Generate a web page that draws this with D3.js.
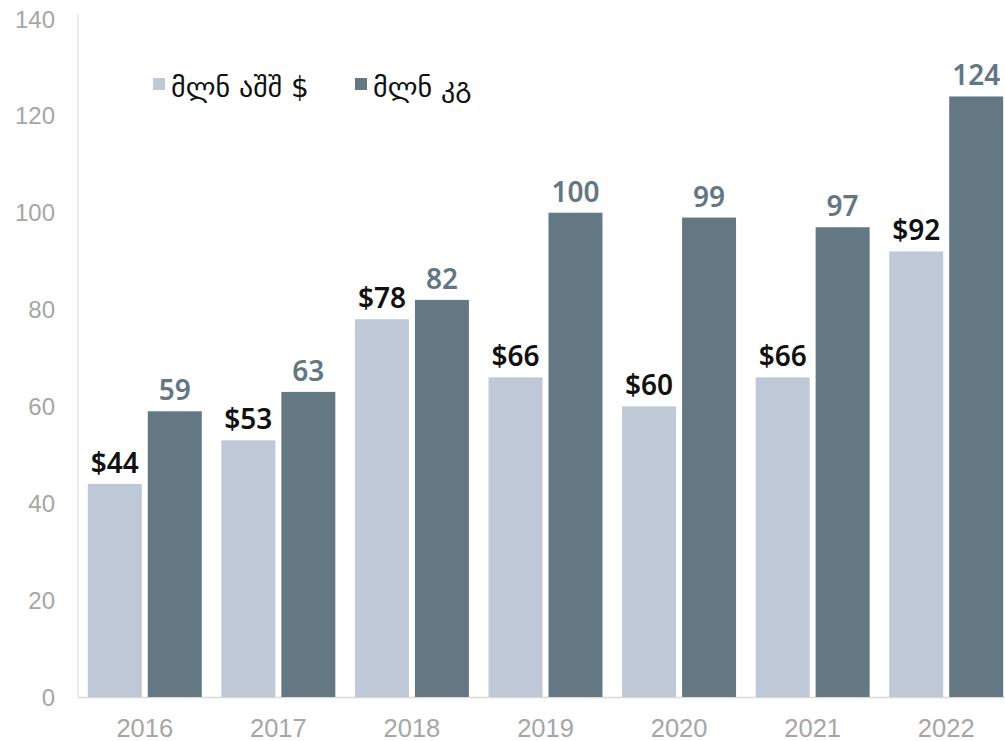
<!DOCTYPE html>
<html>
<head>
<meta charset="utf-8">
<script src="https://cdn.jsdelivr.net/npm/d3@7"></script>
<style>
  body { margin: 0; background: #fff; }
  svg text { font-family: "Liberation Sans", Arial, sans-serif; }
  .tick-label { fill: #a6a6a6; font-size: 24px; }
  .usd-label { fill: #111; font-family: "Noto Sans", sans-serif; font-weight: 600; font-size: 28px; }
  .kg-label { fill: #627783; font-family: "Noto Sans", sans-serif; font-weight: 600; font-size: 28px; }
  .legend-text { fill: #111; font-family: "DejaVu Sans", sans-serif; font-size: 28px; }
</style>
</head>
<body>
<svg id="chart"></svg>
<script>
const years = ["2016", "2017", "2018", "2019", "2020", "2021", "2022"];
const usd = [44, 53, 78, 66, 60, 66, 92];
const kg = [59, 63, 82, 100, 99, 97, 124];
const yTicks = [0, 20, 40, 60, 80, 100, 120, 140];
const seriesNames = ["მლნ აშშ $", "მლნ კგ"];

const width = 1005;
const height = 741;
const colors = ["#bec8d6", "#637883"];

const svg = d3.select("#chart").attr("width", width).attr("height", height);

const x = d3.scaleBand().domain(years).range([78, 1013]).paddingInner(0.147).paddingOuter(0.0735);
const xSub = d3.scaleBand().domain([0, 1]).range([0, x.bandwidth()]).paddingInner(0.1);
const y = d3.scaleLinear().domain([0, 140]).range([697, 19]);

// axis lines
svg.append("line")
  .attr("x1", 78).attr("x2", 78).attr("y1", 14).attr("y2", y(0))
  .attr("stroke", "#d9d9d9").attr("stroke-width", 1);
svg.append("line")
  .attr("x1", 78).attr("x2", width).attr("y1", y(0) + 0.5).attr("y2", y(0) + 0.5)
  .attr("stroke", "#d9d9d9").attr("stroke-width", 1.5);

// y tick labels
svg.selectAll(".tick-y")
  .data(yTicks)
  .enter()
  .append("text")
  .attr("class", "tick-label")
  .attr("x", 55)
  .attr("y", (d) => y(d))
  .attr("dy", "0.36em")
  .attr("text-anchor", "end")
  .text((d) => d);

// x labels
svg.selectAll(".tick-x")
  .data(years)
  .enter()
  .append("text")
  .attr("class", "tick-label")
  .attr("x", (d) => x(d) + x.bandwidth() / 2)
  .attr("y", 737)
  .attr("text-anchor", "middle")
  .style("font-size", "25.5px")
  .text((d) => d);

const groups = svg.selectAll(".year")
  .data(years.map((yr, i) => ({ yr, values: [usd[i], kg[i]] })))
  .enter()
  .append("g")
  .attr("transform", (d) => `translate(${x(d.yr)},0)`);

groups.selectAll("rect")
  .data((d) => d.values)
  .enter()
  .append("rect")
  .attr("x", (d, i) => xSub(i))
  .attr("y", (d) => y(d))
  .attr("width", xSub.bandwidth())
  .attr("height", (d) => y(0) - y(d))
  .attr("fill", (d, i) => colors[i]);

groups.selectAll(".val")
  .data((d) => d.values)
  .enter()
  .append("text")
  .attr("class", (d, i) => (i === 0 ? "usd-label" : "kg-label"))
  .attr("x", (d, i) => xSub(i) + xSub.bandwidth() / 2)
  .attr("y", (d) => y(d) - 11)
  .attr("text-anchor", "middle")
  .text((d, i) => (i === 0 ? `$${d}` : d));

// legend
const legendX = [153, 355];
seriesNames.forEach((name, i) => {
  svg.append("rect")
    .attr("x", legendX[i]).attr("y", 78)
    .attr("width", 12).attr("height", 12)
    .attr("fill", colors[i]);
  svg.append("text")
    .attr("class", "legend-text")
    .attr("x", legendX[i] + 18)
    .attr("y", 97)
    .text(name);
});
</script>
</body>
</html>
